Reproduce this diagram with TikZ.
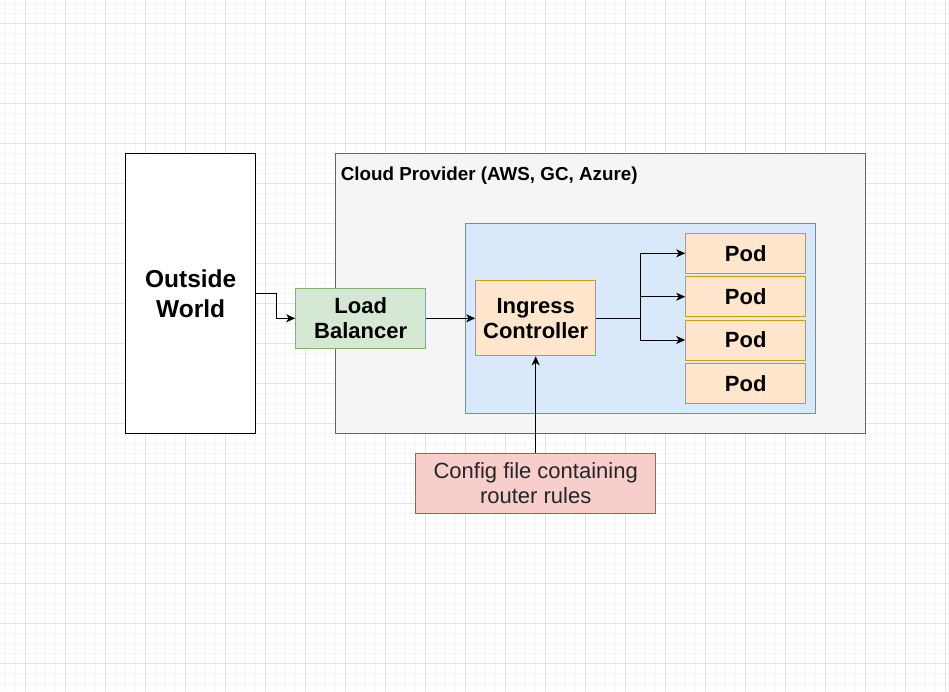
\documentclass[tikz,border=0pt]{standalone}
\usepackage{fontspec}
\setmainfont{Liberation Sans}
\usetikzlibrary{arrows.meta}
\definecolor{cloudfill}{HTML}{F5F5F5}
\definecolor{cloudline}{HTML}{666666}
\definecolor{bluefill}{HTML}{DAE8FC}
\definecolor{blueline}{HTML}{6C8EBF}
\definecolor{greenfill}{HTML}{D5E8D4}
\definecolor{greenline}{HTML}{82B366}
\definecolor{orangefill}{HTML}{FFE6CC}
\definecolor{orangeline}{HTML}{D79B00}
\definecolor{redfill}{HTML}{F8CECC}
\definecolor{redline}{HTML}{B85450}
\definecolor{minorgrid}{HTML}{F5F5F5}
\definecolor{majorgrid}{HTML}{E4E4E4}
\tikzset{
  box/.style={rectangle, draw, line width=1pt, inner sep=0pt, align=center},
  boldtext/.style={font=\fontsize{22}{25.5}\selectfont\bfseries},
  pod/.style={box, fill=orangefill, draw=orangeline, minimum width=120pt, minimum height=40pt, boldtext},
  conn/.style={line width=1pt, -{Stealth[length=9pt,width=8pt,inset=2.5pt]}},
  plain/.style={line width=1pt},
}
\begin{document}
\begin{tikzpicture}[x=1pt,y=-1pt]
\useasboundingbox (0,0) rectangle (949,691);
\fill[white] (0,0) rectangle (949,691);
% grid
\foreach \i in {0,...,94} \draw[minorgrid, line width=0.8pt] ({5.7+10*\i},0) -- ({5.7+10*\i},691);
\foreach \i in {0,...,69} \draw[minorgrid, line width=0.8pt] (0,{3.3+10*\i}) -- (949,{3.3+10*\i});
\foreach \i in {0,...,23} \draw[majorgrid, line width=0.8pt] ({25.7+40*\i},0) -- ({25.7+40*\i},691);
\foreach \i in {0,...,17} \draw[majorgrid, line width=0.8pt] (0,{23.3+40*\i}) -- (949,{23.3+40*\i});

% containers
\node[box, fill=white, draw=black, minimum width=130pt, minimum height=280pt,
      font=\fontsize{24.5}{30}\selectfont\bfseries] (outside) at (190.7,293.3) {Outside\\World};
\node[box, fill=cloudfill, draw=cloudline, minimum width=530pt, minimum height=280pt] (cloud) at (600.7,293.3) {};
\node[anchor=base west, inner sep=0pt, font=\fontsize{18.8}{22}\selectfont\bfseries] (cloudtitle) at (340.7,180) {Cloud Provider (AWS, GC, Azure)};
\node[box, fill=bluefill, draw=blueline, minimum width=350pt, minimum height=190pt] (cluster) at (640.7,318.3) {};

% components
\node[box, fill=greenfill, draw=greenline, minimum width=130pt, minimum height=60pt, boldtext] (lb) at (360.7,318.3) {Load\\Balancer};
\node[box, fill=orangefill, draw=orangeline, minimum width=120pt, minimum height=75pt, boldtext] (ing) at (535.7,318.3) {Ingress\\Controller};
\node[pod] (pod1) at (745.7,253.3) {Pod};
\node[pod] (pod2) at (745.7,296.7) {Pod};
\node[pod] (pod3) at (745.7,340) {Pod};
\node[pod] (pod4) at (745.7,383.3) {Pod};
\node[box, fill=redfill, draw=redline, minimum width=240pt, minimum height=60pt,
      font=\fontsize{22}{25}\selectfont, text=black!85] (config) at (535.7,483.3) {Config file containing\\router rules};

% connectors
\draw[conn] (outside.east) -- ++(20,0) |- (lb.west);
\draw[conn] (lb.east) -- (ing.west);
\coordinate (split) at (640.7,318.3);
\draw[plain] (ing.east) -- (split);
\draw[conn] (split) |- (pod1.west);
\draw[conn] (split) |- (pod2.west);
\draw[conn] (split) |- (pod3.west);
\draw[conn] (config.north) -- (ing.south);
\end{tikzpicture}
\end{document}
